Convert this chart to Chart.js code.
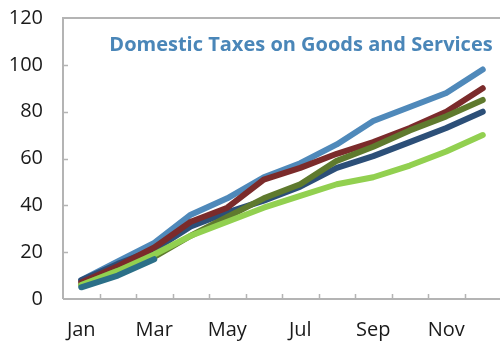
<!DOCTYPE html>
<html>
<head>
<meta charset="utf-8">
<script src="https://cdn.jsdelivr.net/npm/chart.js@4"></script>
<style>
  html, body { margin: 0; padding: 0; background: #fff; overflow: hidden; }
  #wrap { width: 500px; height: 343px; overflow: hidden; position: relative; }
  #myChart { position: absolute; left: 0; top: -14px; }
</style>
</head>
<body>
<div id="wrap"><canvas id="myChart" width="503" height="357"></canvas></div>
<script>
let months = ['Jan', 'Feb', 'Mar', 'Apr', 'May', 'Jun', 'Jul', 'Aug', 'Sep', 'Oct', 'Nov', 'Dec'];
let yTicks = [0, 20, 40, 60, 80, 100, 120];
let panelTitle = 'Domestic Taxes on Goods and Services';

let seriesA = [8, 16, 24, 36, 43, 52, 58, 66, 76, 82, 88, 98];
let seriesB = [7, 14, 22, 33, 39, 51, 56, 62, 67, 73, 80, 90];
let seriesC = [6, 12, 18, 27, 35, 43, 49, 59, 65, 72, 78, 85];
let seriesD = [8, 15, 21, 31, 37, 42, 48, 56, 61, 67, 73, 80];
let seriesE = [6, 12, 19, 27, 33, 39, 44, 49, 52, 57, 63, 70];
let seriesF = [5, 10, 17, null, null, null, null, null, null, null, null, null];

let axisGray = '#b4b4b4';
let labelFont = '"Open Sans", "Noto Sans", sans-serif';

let mkLine = (label, data, color, order) => ({
    label: label,
    data: data,
    borderColor: color,
    backgroundColor: color,
    borderWidth: 6,
    borderCapStyle: 'round',
    borderJoinStyle: 'round',
    pointRadius: 0,
    tension: 0,
    fill: false,
    spanGaps: false,
    order: order
});

// frame + inward tick marks + panel title
let framePlugin = {
    id: 'frame',
    beforeDatasetsDraw(chart) {
        let c = chart.ctx, a = chart.chartArea;
        let xs = chart.scales.x, ys = chart.scales.y;
        c.save();
        c.strokeStyle = axisGray;
        c.lineWidth = 2;
        c.beginPath();
        c.moveTo(a.left, a.bottom);
        c.lineTo(a.left, a.top);
        c.lineTo(a.right, a.top);
        c.moveTo(a.left, a.bottom);
        c.lineTo(a.right, a.bottom);
        c.stroke();
        c.lineWidth = 1.5;
        c.beginPath();
        for (let i = 1; i < months.length; i++) {
            let x = Math.round((xs.getPixelForValue(i - 1) + xs.getPixelForValue(i)) / 2) + 0.5;
            c.moveTo(x, a.bottom);
            c.lineTo(x, a.bottom - 5);
        }
        yTicks.forEach(v => {
            if (v === 0 || v === 120) return;
            let y = Math.round(ys.getPixelForValue(v)) + 0.5;
            c.moveTo(a.left, y);
            c.lineTo(a.left + 5, y);
        });
        c.stroke();
        c.restore();
    },
    afterDatasetsDraw(chart) {
        let c = chart.ctx, a = chart.chartArea;
        c.save();
        c.fillStyle = '#4a86b8';
        c.font = 'bold 20px ' + labelFont;
        c.textAlign = 'center';
        c.textBaseline = 'middle';
        c.fillText(panelTitle, 301, a.top + 27);
        c.restore();
    }
};

let ctx = document.getElementById('myChart').getContext('2d');
let myChart = new Chart(ctx, {
    type: 'line',
    data: {
        labels: months,
        datasets: [
            mkLine('Series F', seriesF, '#2b6f88', 1),
            mkLine('Series E', seriesE, '#92d050', 2),
            mkLine('Series C', seriesC, '#5f7a2e', 3),
            mkLine('Series B', seriesB, '#7b2b2b', 4),
            mkLine('Series D', seriesD, '#2c4f78', 5),
            mkLine('Series A', seriesA, '#4f89ba', 6)
        ]
    },
    options: {
        responsive: false,
        animation: false,
        layout: { padding: { top: 0, right: 2, bottom: 0, left: 0 } },
        plugins: {
            legend: { display: false },
            tooltip: { enabled: false }
        },
        scales: {
            x: {
                offset: true,
                grid: { display: false, drawTicks: false },
                border: { display: false },
                afterFit: axis => { axis.height = 44; },
                ticks: {
                    autoSkip: false,
                    maxRotation: 0,
                    padding: 19,
                    color: '#1a1a1a',
                    font: { family: labelFont, size: 20 },
                    callback: (v, i) => i % 2 === 0 ? months[i] : ''
                }
            },
            y: {
                min: 0,
                max: 120,
                afterBuildTicks: axis => { axis.ticks = yTicks.map(v => ({ value: v })); },
                grid: { display: false, drawTicks: false },
                border: { display: false },
                afterFit: axis => { axis.width = 63; },
                ticks: {
                    padding: 20,
                    color: '#1a1a1a',
                    font: { family: labelFont, size: 20 }
                }
            }
        }
    },
    plugins: [framePlugin]
});
</script>
</body>
</html>
